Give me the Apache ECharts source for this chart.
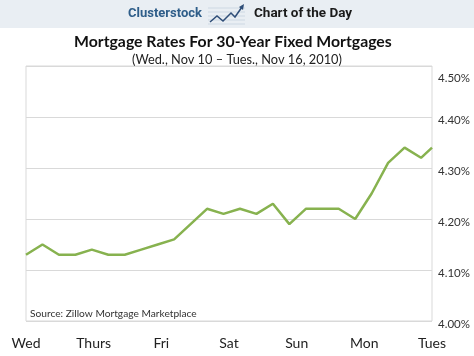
<!DOCTYPE html>
<html>
<head>
<meta charset="utf-8">
<script src="https://cdn.jsdelivr.net/npm/echarts@6/dist/echarts.min.js"></script>
<style>
html,body{margin:0;padding:0;background:#fff;}
#c{width:474px;height:356px;}
</style>
</head>
<body>
<div id="c"></div>
<script>
// Hours since Wed 00:00 (readings every 6 hours)
var hours = [0,6,12,18,24,30,36,42,48,54,60,66,72,78,84,90,96,102,108,114,120,126,132,138,144,148];
var rates = [4.13,4.15,4.13,4.13,4.14,4.13,4.13,4.14,4.15,4.16,4.19,4.22,4.21,4.22,4.21,4.23,4.19,4.22,4.22,4.22,4.20,4.25,4.31,4.34,4.32,4.34];
var dayLabels = ['Wed','Thurs','Fri','Sat','Sun','Mon','Tues'];
var yTicks = [4.00,4.10,4.20,4.30,4.40,4.50];

var chart = echarts.init(document.getElementById('c'));
var font = 'Lato, "Noto Sans", sans-serif';
var pts = hours.map(function(h,i){return [h, rates[i]];});
var yMax = yTicks[yTicks.length-1];

chart.setOption({
  animation:false,
  backgroundColor:'#fff',
  title:[
    {text:'Mortgage Rates For 30-Year Fixed Mortgages', left:69, top:29,
     textStyle:{fontFamily:font, fontSize:15.8, fontWeight:'bold', color:'#111'}},
    {text:'(Wed., Nov 10 \u2013 Tues., Nov 16, 2010)', left:127, top:48,
     textStyle:{fontFamily:font, fontSize:12.8, fontWeight:'normal', color:'#222'}}
  ],
  grid:{left:26, right:42, top:66, bottom:35, show:true, borderColor:'#d9d9d9', borderWidth:1, backgroundColor:'#fff'},
  xAxis:[
    {type:'value', min:hours[0], max:hours[hours.length-1], show:false, splitLine:{show:false}},
    {type:'category', data:dayLabels, boundaryGap:false, position:'bottom',
     axisLine:{show:false}, axisTick:{show:false}, splitLine:{show:false},
     axisLabel:{fontFamily:font, fontSize:14, color:'#222', margin:15}}
  ],
  yAxis:{type:'value', position:'right', min:yTicks[0], max:yMax, interval:0.1,
    axisLine:{show:false}, axisTick:{show:false},
    splitLine:{lineStyle:{color:'#d9d9d9', width:1}},
    axisLabel:{fontFamily:font, fontSize:11.5, color:'#333', margin:6, padding:[6,0,0,0],
      formatter:function(v){
        var s = v.toFixed(2)+'%';
        return Math.abs(v-yMax)<1e-9 ? '{t|'+s+'}' : s;
      },
      rich:{t:{fontFamily:font, fontSize:11.5, color:'#333', padding:[18,0,0,0]}}
    }
  },
  series:[{type:'line', xAxisIndex:0, data:pts, symbol:'none', clip:true,
    lineStyle:{color:'#87b24f', width:2.5}}],
  graphic:[
    {type:'rect', shape:{x:0,y:0,width:474,height:28}, style:{fill:'#e9eef3'}, silent:true},
    {type:'group', children:[
      {type:'line', shape:{x1:208,y1:8,x2:245,y2:8}, style:{stroke:'#cdd8e3', lineWidth:1}},
      {type:'line', shape:{x1:208,y1:12,x2:245,y2:12}, style:{stroke:'#cdd8e3', lineWidth:1}},
      {type:'line', shape:{x1:208,y1:16,x2:245,y2:16}, style:{stroke:'#cdd8e3', lineWidth:1}},
      {type:'line', shape:{x1:208,y1:20,x2:245,y2:20}, style:{stroke:'#cdd8e3', lineWidth:1}},
      {type:'line', shape:{x1:208,y1:24,x2:245,y2:24}, style:{stroke:'#cdd8e3', lineWidth:1}},
      {type:'polyline', shape:{points:[[210,22],[217,16],[223,21],[231,13],[235,17],[242,7]]}, style:{stroke:'#2f4e78', lineWidth:1.5, fill:null}},
      {type:'polygon', shape:{points:[[244,4],[239,7],[243,10]]}, style:{fill:'#2f4e78'}}
    ]},
    {type:'text', left:128, top:7, style:{text:'Clusterstock', font:'bold 13px Roboto, sans-serif', fill:'#2e5d89'}},
    {type:'text', left:254, top:7, style:{text:'Chart of the Day', font:'bold 13.5px Roboto, sans-serif', fill:'#1a1a1a'}},
    {type:'text', left:30, top:309, style:{text:'Source: Zillow Mortgage Marketplace', font:'10.2px Lato, sans-serif', fill:'#333'}}
  ]
});
</script>
</body>
</html>
